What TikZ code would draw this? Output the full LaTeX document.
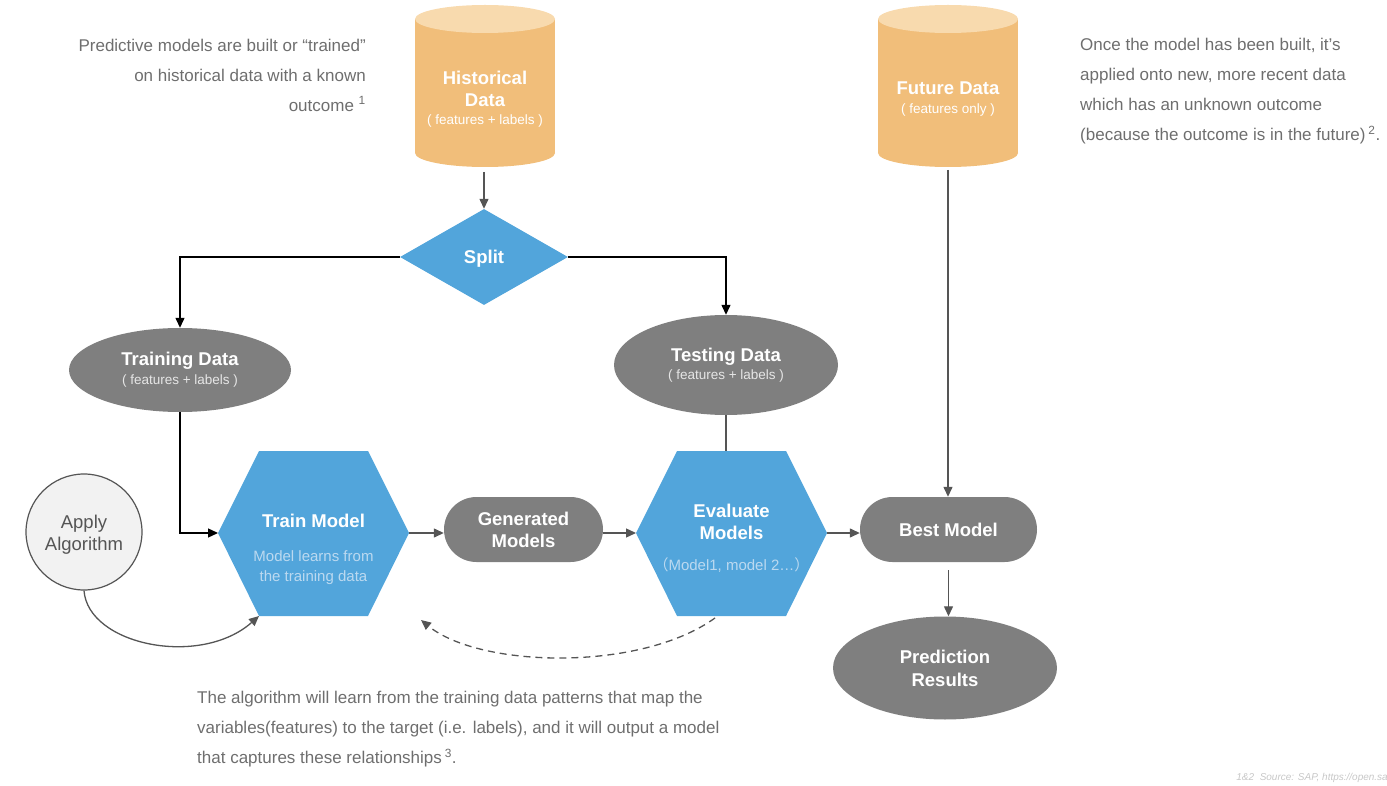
\documentclass[tikz,border=0pt]{standalone}
\usepackage{fontspec}
\setmainfont{Liberation Sans}
\newfontfamily\cjk{Noto Sans CJK SC}
\usepackage{tikz}
\usetikzlibrary{shapes.geometric,shapes.misc,arrows.meta,positioning}

\definecolor{cylbody}{HTML}{F1BE7A}
\definecolor{cyltop}{HTML}{F8DAAE}
\definecolor{stepblue}{HTML}{52A5DB}
\definecolor{boxgray}{HTML}{7F7F7F}
\definecolor{linegray}{HTML}{555555}
\definecolor{notegray}{HTML}{6E6E6E}
\definecolor{paleblue}{HTML}{BBD9F0}
\definecolor{palegray}{HTML}{E6E6E6}
\definecolor{circfill}{HTML}{F2F2F2}

\tikzset{
  title/.style={font=\bfseries\fontsize{18.5}{22}\selectfont, text=white, align=center},
  oneline/.style={text height=13.5pt, text depth=0pt},
  grayblob/.style={ellipse, fill=boxgray, inner sep=0pt, align=center},
  pill/.style={rounded rectangle, fill=boxgray, inner sep=0pt, title},
  note/.style={font=\fontsize{17}{30}\selectfont, text=notegray, inner sep=0pt},
  blackline/.style={line width=1.3pt, black, -{Triangle[length=10pt,width=9pt]}},
  grayline/.style={line width=1.3pt, linegray, -{Triangle[length=10pt,width=9pt]}},
}

\begin{document}
\begin{tikzpicture}[x=1pt,y=-1pt]
\useasboundingbox (0,0) rectangle (1387,786);

% data stores
\fill[cylbody] (415,19) rectangle (555,153);
\fill[cylbody] (485,153) ellipse[x radius=70,y radius=14];
\fill[cyltop] (485,19) ellipse[x radius=70,y radius=14];
\node[title] (hist) at (485,89) {Historical\\Data};
\node[font=\fontsize{13.5}{16}\selectfont, text=white] (histsub) at (485,121) {( features + labels )};
\coordinate (histB) at (485,172);

\fill[cylbody] (878,19) rectangle (1018,153);
\fill[cylbody] (948,153) ellipse[x radius=70,y radius=14];
\fill[cyltop] (948,19) ellipse[x radius=70,y radius=14];
\node[title, oneline] (fut) at (948,88) {Future Data};
\node[font=\fontsize{13.5}{16}\selectfont, text=white] (futsub) at (948,110) {( features only )};
\coordinate (futB) at (948,170);

%-------------------------------------
\node[diamond, fill=stepblue, minimum width=168pt, minimum height=96pt, inner sep=0pt, aspect=1.75, title, oneline] (split) at (484,257) {Split};

\node[grayblob, minimum width=222pt, minimum height=84pt, font=\fontsize{13.5}{19}\selectfont, text=palegray] (traindata) at (180,370)
  {{\bfseries\fontsize{18.5}{19}\selectfont\color{white}Training Data}\\( features + labels )};
\node[grayblob, minimum width=224pt, minimum height=100pt, font=\fontsize{13.5}{18}\selectfont, text=palegray] (testdata) at (726,365)
  {{\bfseries\fontsize{18.5}{18}\selectfont\color{white}Testing Data}\\( features + labels )};

%-------------------------------------
\coordinate (trainW) at (218,533);
\coordinate (trainE) at (409,533);
\coordinate (trainSW) at (259,616);
\fill[stepblue] (trainW) -- (259,451) -- (368,451) -- (trainE) -- (368,616) -- (trainSW) -- cycle;
\node[title, oneline] (trainm) at (313.5,521) {Train Model};
\node[font=\fontsize{15}{20}\selectfont, text=paleblue, align=center] (trainsub) at (313.5,568) {Model learns from\\the training data};

\coordinate (evalW) at (636,533);
\coordinate (evalE) at (827,533);
\coordinate (evalN) at (726,451);
\fill[stepblue] (evalW) -- (677,451) -- (786,451) -- (evalE) -- (786,616) -- (677,616) -- cycle;
\node[title] (evalm) at (731.5,521.5) {Evaluate\\Models};
\node[font=\fontsize{15}{20}\selectfont, text=paleblue] (evalsub) at (731.5,565) {{\cjk （}Model1, model 2…{\cjk ）}};

\node[pill, minimum width=159pt, minimum height=65pt] (gen) at (523.5,529.5) {Generated\\Models};
\node[pill, minimum width=177pt, minimum height=65pt, oneline] (best) at (948.5,529.5) {Best Model};
\node[grayblob, minimum width=224pt, minimum height=103pt, title, font=\bfseries\fontsize{18.5}{23}\selectfont] (pred) at (945,668) {Prediction\\Results};

\node[circle, minimum size=116pt, inner sep=0pt, fill=circfill, draw=linegray, line width=1.2pt] (apply) at (84,532) {};
\node[text=linegray, align=center, font=\fontsize{18.5}{22}\selectfont] (applytext) at (84,535) {Apply\\Algorithm};

%-------------------------------------
\draw[grayline] (split.north |- histB) -- (split.north);
\draw[blackline] (split.west) -| (traindata.north);
\draw[blackline] (split.east) -| (testdata.north);
\draw[blackline] (traindata.south) |- (trainW);
\draw[line width=1.3pt, linegray] (testdata.south) -- (testdata.south |- evalN);
\draw[grayline] (trainE) -- (trainE -| gen.west);
\draw[grayline] (gen.east |- evalW) -- (evalW);
\draw[grayline] (evalE) -- (evalE -| best.west);
\draw[grayline] (futB) -- (futB |- best.north);
\draw[grayline, shorten <=8pt] (best.south) -- (best.south |- pred.north);
\draw[grayline] (apply.south) .. controls (88,645) and (200,668) .. (trainSW);

\coordinate (loopA) at (715,618);
\coordinate (loopB) at (421,620);
\draw[grayline, dash pattern=on 7pt off 5pt] (loopA) .. controls (640,672) and (480,668) .. (loopB);

%-------------------------------------
\node[note, anchor=east, align=right] (notel) at (366,75)
  {Predictive models are built or “trained”\\on historical data with a known\\outcome \textsuperscript{1}};
\node[note, anchor=west, align=left] (noter) at (1080,91.5)
  {Once the model has been built, it’s\\applied onto new, more recent data\\which has an unknown outcome\\(because the outcome is in the future)\,\textsuperscript{2}.};
\node[note, anchor=west, align=left] (noteb) at (197,729)
  {The algorithm will learn from the training data patterns that map the\\variables(features) to the target (i.e. labels), and it will output a model\\that captures these relationships\,\textsuperscript{3}.};
\node[anchor=east, inner sep=0pt, font=\itshape\fontsize{10}{11}\selectfont, text=black!22] (src) at (1388,778) {1\&2\ \ Source: SAP, https://open.sa};
\end{tikzpicture}
\end{document}
